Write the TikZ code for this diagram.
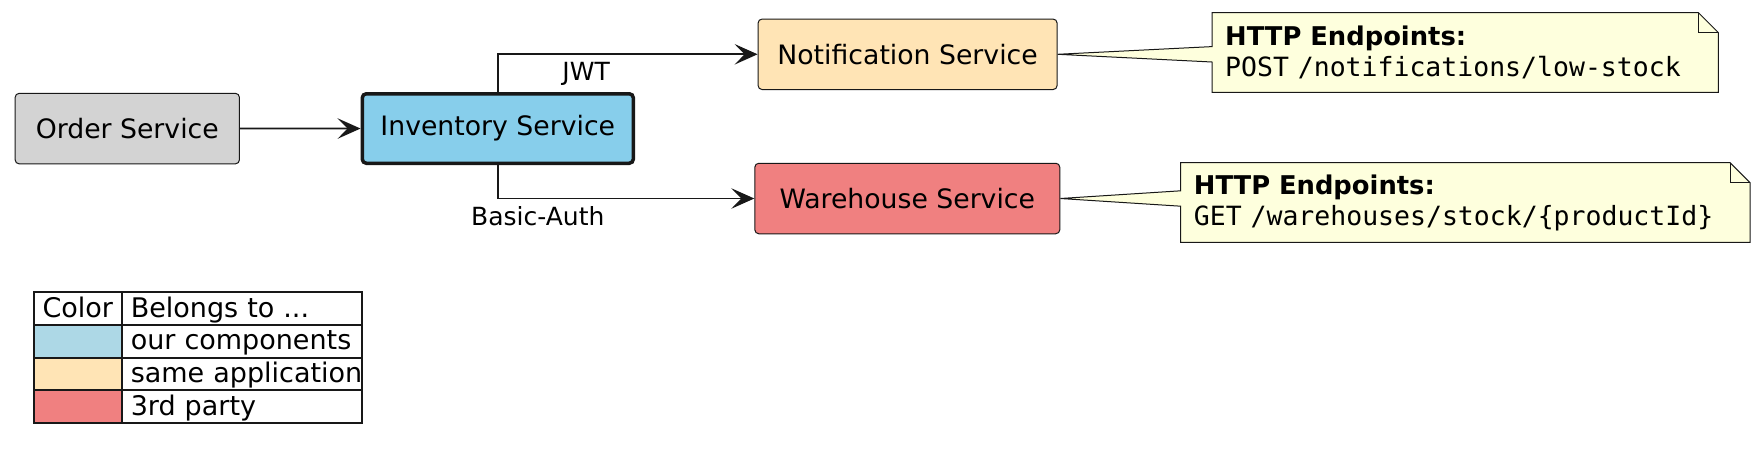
\documentclass[tikz,border=0pt]{standalone}
\usepackage{fontspec}
\setmainfont{DejaVu Sans}
\setmonofont{DejaVu Sans Mono}
\usepackage{tikz}
\usetikzlibrary{arrows.meta,positioning,backgrounds}
\definecolor{edgegray}{HTML}{181818}
\definecolor{ordergray}{HTML}{D3D3D3}
\definecolor{skyblue}{HTML}{87CEEB}
\definecolor{lightblue}{HTML}{ADD8E6}
\definecolor{moccasin}{HTML}{FFE4B5}
\definecolor{lightcoral}{HTML}{F08080}
\definecolor{notefill}{HTML}{FEFFDD}

\begin{document}
\begin{tikzpicture}[x=1pt, y=-1pt, >={Stealth[length=23pt,width=20.5pt,inset=10pt]},
  service/.style={draw=edgegray, line width=1pt, rounded corners=4pt, minimum height=70.5pt, inner sep=0pt, font=\fontsize{26.7}{32}\selectfont},
  flow/.style={->, draw=edgegray, line width=1.7pt},
  flowlabel/.style={inner sep=0pt, anchor=north, yshift=-7.4pt, font=\fontsize{25}{30}\selectfont},
  note/.style={inner xsep=13pt, inner ysep=0pt, anchor=north west, align=left, minimum height=79.3pt, font=\fontsize{26.5}{31}\selectfont},
  notebox/.style={draw=edgegray, fill=notefill, line width=1pt, line join=miter},
  legcell/.style={draw=edgegray, line width=2pt, outer sep=0pt, minimum height=32.6pt, inner xsep=8.5pt, inner ysep=0pt, text height=22pt, text depth=4.5pt, align=left, anchor=north west, font=\fontsize{27}{32}\selectfont}]
\path[use as bounding box] (0,0) rectangle (1762,474);
\node[service, fill=ordergray, minimum width=224.3pt] (order) at (127.3,128.6) {Order Service};
\node[service, fill=skyblue, line width=3.5pt, minimum width=271pt, minimum height=69.5pt] (inventory) at (497.8,128.5) {Inventory Service};
\node[service, fill=moccasin, minimum width=299pt] (notification) at (907.6,54.3) {Notification Service};
\node[service, fill=lightcoral, minimum width=305pt] (warehouse) at (907.3,198.5) {Warehouse Service};
\draw[flow] (order) -- (inventory);
\draw[flow] (inventory.north) |- node[flowlabel, pos=.67] {JWT} (notification);
\draw[flow] (inventory.south) |- node[flowlabel, pos=.578] {Basic-Auth} (warehouse);

\node[note, text width=480pt] (notenotif) at (1212,12.7) {{\fontsize{25.8}{31}\selectfont\textbf{HTTP Endpoints:}}\\\texttt{POST /notifications/low-stock}};
\node[note, text width=543pt] (notewarehouse) at (1180.7,162.7) {{\fontsize{25.8}{31}\selectfont\textbf{HTTP Endpoints:}}\\\texttt{GET /warehouses/stock/\{productId\}}};
\coordinate (notiftip) at (notenotif.west |- notification.east);
\coordinate (warehousetip) at (notewarehouse.west |- warehouse.east);
\begin{pgfonlayer}{background}
\draw[notebox] (notenotif.north west) -- ([xshift=-20pt]notenotif.north east) -- ([yshift=-20pt]notenotif.north east) -- (notenotif.south east) -- (notenotif.south west) -- ([yshift=-7.7pt]notiftip) -- (notification.east) -- ([yshift=7.7pt]notiftip) -- cycle;
\draw[notebox, fill=none] ([xshift=-20pt]notenotif.north east) |- ([yshift=-20pt]notenotif.north east);
\draw[notebox] (notewarehouse.north west) -- ([xshift=-20pt]notewarehouse.north east) -- ([yshift=-20pt]notewarehouse.north east) -- (notewarehouse.south east) -- (notewarehouse.south west) -- ([yshift=-7.7pt]warehousetip) -- (warehouse.east) -- ([yshift=7.7pt]warehousetip) -- cycle;
\draw[notebox, fill=none] ([xshift=-20pt]notewarehouse.north east) |- ([yshift=-20pt]notewarehouse.north east);
\end{pgfonlayer}

\node[legcell, text width=71.3pt] (legswatch0) at (34,292.3) {Color};
\node[legcell, text width=223pt, right=0pt of legswatch0] (legowner0) {\mbox{Belongs to ...}};
\foreach \swatch/\owner [count=\i] in {lightblue/our components, moccasin/same application, lightcoral/3rd party} {
  \node[legcell, fill=\swatch, text width=71.3pt] (legswatch\i) at (34,{292.3+32.6*\i}) {};
  \node[legcell, text width=223pt, right=0pt of legswatch\i] (legowner\i) {\mbox{\owner}};
}
\end{tikzpicture}
\end{document}
